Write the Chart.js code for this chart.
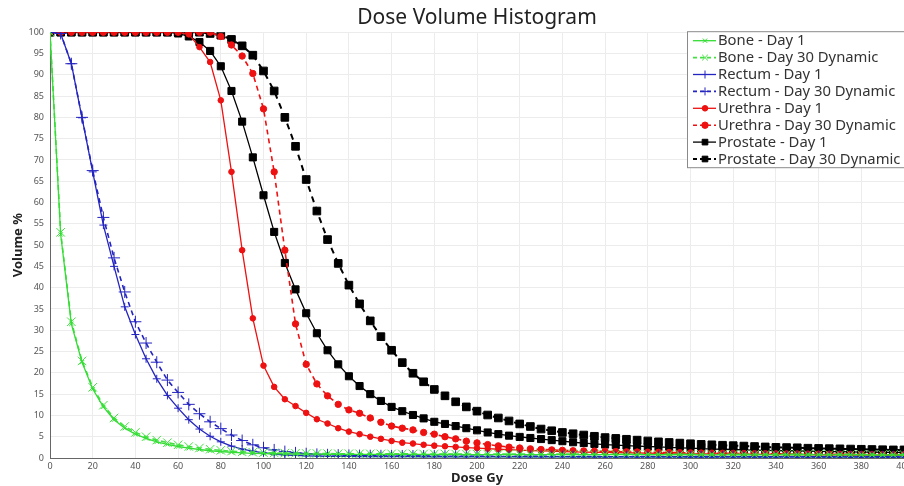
<!DOCTYPE html>
<html>
<head>
<meta charset="utf-8">
<script src="https://cdn.jsdelivr.net/npm/chart.js@4.4.1/dist/chart.umd.min.js"></script>
<style>
  html, body { margin: 0; padding: 0; background: #fff; }
  #wrap { width: 904px; height: 486px; }
</style>
</head>
<body>
<div id="wrap"><canvas id="dvh" width="904" height="486"></canvas></div>
<script>
// dose grid (Gy), one value every 5 Gy
const dose = [
  0, 5, 10, 15, 20, 25, 30, 35, 40, 45,
  50, 55, 60, 65, 70, 75, 80, 85, 90, 95,
  100, 105, 110, 115, 120, 125, 130, 135, 140, 145,
  150, 155, 160, 165, 170, 175, 180, 185, 190, 195,
  200, 205, 210, 215, 220, 225, 230, 235, 240, 245,
  250, 255, 260, 265, 270, 275, 280, 285, 290, 295,
  300, 305, 310, 315, 320, 325, 330, 335, 340, 345,
  350, 355, 360, 365, 370, 375, 380, 385, 390, 395,
  400
];

// volume %
const boneDay1 = [
  100, 52.5, 31.5, 22.5, 16.2, 12, 9, 7, 5.6, 4.6,
  3.8, 3.2, 2.7, 2.3, 2.0, 1.7, 1.5, 1.35, 1.2, 1.1,
  1.05, 1.0, 0.95, 0.92, 0.9, 0.9, 0.88, 0.88, 0.86, 0.86,
  0.85, 0.85, 0.84, 0.84, 0.83, 0.83, 0.82, 0.82, 0.82, 0.81,
  0.81, 0.8, 0.8, 0.8, 0.8, 0.79, 0.79, 0.79, 0.79, 0.78,
  0.78, 0.78, 0.78, 0.77, 0.77, 0.77, 0.77, 0.76, 0.76, 0.76,
  0.76, 0.75, 0.75, 0.75, 0.75, 0.74, 0.74, 0.74, 0.74, 0.73,
  0.73, 0.73, 0.73, 0.72, 0.72, 0.72, 0.72, 0.71, 0.71, 0.71,
  0.7
];
const boneDay30 = [
  100, 53, 32, 22.8, 16.6, 12.4, 9.4, 7.4, 6.0, 5.0,
  4.2, 3.6, 3.1, 2.7, 2.35, 2.05, 1.8, 1.6, 1.45, 1.35,
  1.25, 1.2, 1.15, 1.1, 1.07, 1.05, 1.03, 1.01, 1.0, 0.99,
  0.98, 0.97, 0.97, 0.96, 0.96, 0.95, 0.95, 0.94, 0.94, 0.93,
  0.93, 0.93, 0.92, 0.92, 0.92, 0.91, 0.91, 0.91, 0.9, 0.9,
  0.9, 0.9, 0.89, 0.89, 0.89, 0.89, 0.88, 0.88, 0.88, 0.88,
  0.87, 0.87, 0.87, 0.87, 0.86, 0.86, 0.86, 0.86, 0.85, 0.85,
  0.85, 0.85, 0.84, 0.84, 0.84, 0.84, 0.83, 0.83, 0.83, 0.83,
  0.82
];
const rectumDay1 = [
  100, 99.7, 92.6, 79.9, 67.2, 54.7, 45, 35.5, 29, 23.3,
  18.6, 14.7, 11.7, 9.0, 6.8, 5.1, 3.8, 2.8, 2.1, 1.6,
  1.2, 0.9, 0.7, 0.6, 0.5, 0.45, 0.4, 0.38, 0.36, 0.34,
  0.33, 0.32, 0.31, 0.3, 0.3, 0.29, 0.29, 0.28, 0.28, 0.27,
  0.27, 0.27, 0.26, 0.26, 0.26, 0.25, 0.25, 0.25, 0.25, 0.24,
  0.24, 0.24, 0.24, 0.23, 0.23, 0.23, 0.23, 0.22, 0.22, 0.22,
  0.22, 0.22, 0.21, 0.21, 0.21, 0.21, 0.21, 0.2, 0.2, 0.2,
  0.2, 0.2, 0.2, 0.19, 0.19, 0.19, 0.19, 0.19, 0.18, 0.18,
  0.18
];
const rectumDay30 = [
  100, 99.7, 92.6, 80, 67.5, 56.5, 47, 39, 32, 27,
  22.5, 18.3, 15.4, 12.6, 10.4, 8.5, 6.9, 5.4, 4.1, 3.1,
  2.4, 1.9, 1.5, 1.2, 1.0, 0.85, 0.75, 0.67, 0.61, 0.57,
  0.54, 0.52, 0.5, 0.48, 0.47, 0.46, 0.45, 0.44, 0.43, 0.42,
  0.41, 0.4, 0.4, 0.39, 0.39, 0.38, 0.38, 0.37, 0.37, 0.36,
  0.36, 0.36, 0.35, 0.35, 0.35, 0.34, 0.34, 0.34, 0.33, 0.33,
  0.33, 0.33, 0.32, 0.32, 0.32, 0.32, 0.31, 0.31, 0.31, 0.31,
  0.3, 0.3, 0.3, 0.3, 0.3, 0.29, 0.29, 0.29, 0.29, 0.29,
  0.28
];
const urethraDay1 = [
  100, 100, 100, 100, 100, 100, 100, 100, 100, 100,
  100, 100, 100, 99.5, 96.5, 93, 84, 67.2, 48.8, 32.8,
  21.7, 16.7, 13.8, 12.2, 10.6, 9.1, 8.1, 7.0, 6.2, 5.6,
  5.0, 4.5, 4.0, 3.6, 3.4, 3.1, 2.9, 2.75, 2.6, 2.45,
  2.3, 2.2, 2.05, 1.95, 1.85, 1.75, 1.65, 1.6, 1.5, 1.45,
  1.4, 1.35, 1.3, 1.26, 1.22, 1.18, 1.14, 1.1, 1.07, 1.04,
  1.0, 0.98, 0.96, 0.94, 0.92, 0.9, 0.88, 0.86, 0.84, 0.82,
  0.8, 0.78, 0.76, 0.74, 0.72, 0.7, 0.68, 0.66, 0.64, 0.62,
  0.6
];
const urethraDay30 = [
  100, 100, 100, 100, 100, 100, 100, 100, 100, 100,
  100, 100, 100, 100, 100, 100, 99, 97, 94.4, 90.3,
  82, 67.2, 48.8, 31.5, 22, 17.4, 14.6, 12.6, 11.3, 10.5,
  9.4, 8.4, 7.5, 7.0, 6.6, 6.0, 5.6, 5.0, 4.5, 3.95,
  3.55, 3.15, 2.85, 2.55, 2.35, 2.15, 2.0, 1.9, 1.8, 1.7,
  1.65, 1.6, 1.55, 1.5, 1.45, 1.4, 1.36, 1.32, 1.28, 1.24,
  1.2, 1.17, 1.14, 1.11, 1.08, 1.05, 1.02, 1.0, 0.98, 0.96,
  0.94, 0.92, 0.9, 0.88, 0.86, 0.84, 0.82, 0.8, 0.78, 0.76,
  0.75
];
const prostateDay1 = [
  100, 100, 100, 100, 100, 100, 100, 100, 100, 100,
  100, 100, 99.7, 99, 97.7, 95.6, 92, 86.2, 79, 70.6,
  61.7, 53.1, 45.8, 39.6, 34, 29.3, 25.3, 22, 19.2, 16.9,
  15.0, 13.4, 12.0, 11.0, 10.1, 9.3, 8.5, 8.0, 7.5, 7.0,
  6.5, 6.0, 5.6, 5.25, 4.95, 4.7, 4.45, 4.2, 3.95, 3.7,
  3.5, 3.3, 3.15, 3.0, 2.9, 2.8, 2.7, 2.6, 2.5, 2.4,
  2.3, 2.2, 2.1, 2.05, 2.0, 1.9, 1.85, 1.8, 1.75, 1.7,
  1.65, 1.6, 1.55, 1.5, 1.5, 1.45, 1.4, 1.4, 1.35, 1.3,
  1.3
];
const prostateDay30 = [
  100, 100, 100, 100, 100, 100, 100, 100, 100, 100,
  100, 100, 100, 100, 100, 99.7, 99.3, 98.3, 96.8, 94.6,
  90.9, 86.2, 80, 73.2, 65.4, 58, 51.3, 45.7, 40.6, 36.2,
  32.2, 28.5, 25.3, 22.4, 19.9, 17.9, 16.1, 14.6, 13.2, 12.0,
  11.0, 10.1, 9.4, 8.7, 8.0, 7.4, 6.8, 6.4, 6.0, 5.7,
  5.4, 5.1, 4.8, 4.6, 4.4, 4.2, 4.0, 3.8, 3.65, 3.5,
  3.35, 3.2, 3.1, 3.0, 2.9, 2.8, 2.7, 2.6, 2.5, 2.45,
  2.4, 2.3, 2.25, 2.2, 2.15, 2.1, 2.05, 2.0, 1.95, 1.9,
  1.9
];

const xTicks = [0, 400, 20];   // min, max, step
const yTicks = [0, 100, 5];

const FONT = "'Noto Sans', 'DejaVu Sans', sans-serif";

function pts(vals) {
    return vals.map((v, i) => ({ x: dose[i], y: v }));
}

function series(label, vals, color, dashed, style, radius) {
    return {
        label: label,
        data: pts(vals),
        borderColor: color,
        backgroundColor: color,
        pointBackgroundColor: color,
        pointBorderColor: color,
        borderWidth: dashed ? 1.6 : 1.3,
        borderDash: dashed ? [5, 4] : [],
        pointStyle: style,
        pointRadius: radius,
        pointBorderWidth: 1,
        pointHoverRadius: radius,
        tension: 0,
        fill: false
    };
}

let datasets = [
    series('Bone - Day 1', boneDay1, '#33dd33', false, 'crossRot', 3),
    series('Bone - Day 30 Dynamic', boneDay30, '#44e044', true, 'crossRot', 6),
    series('Rectum - Day 1', rectumDay1, '#2424c0', false, 'cross', 4),
    series('Rectum - Day 30 Dynamic', rectumDay30, '#2424c0', true, 'cross', 6),
    series('Urethra - Day 1', urethraDay1, '#ee1111', false, 'circle', 2.8),
    series('Urethra - Day 30 Dynamic', urethraDay30, '#ee1111', true, 'circle', 3.2),
    series('Prostate - Day 1', prostateDay1, '#000000', false, 'rect', 5),
    series('Prostate - Day 30 Dynamic', prostateDay30, '#000000', true, 'rect', 5.4)
];
datasets[7].borderWidth = 2;
datasets[7].borderDash = [6, 5];

// legend box drawn inside the plot, top right
const boxLegend = {
    id: 'boxLegend',
    afterDraw(chart) {
        const ctx = chart.ctx;
        const area = chart.chartArea;
        const w = 218, h = 137;
        const x0 = area.right + 1 - w, y0 = area.top - 1;
        ctx.save();
        ctx.fillStyle = '#ffffff';
        ctx.fillRect(x0, y0, w, h);
        ctx.strokeStyle = '#8a8a8a';
        ctx.lineWidth = 1;
        ctx.strokeRect(x0 + 0.5, y0 + 0.5, w - 1, h - 1);
        ctx.font = '14.8px ' + FONT;
        ctx.textBaseline = 'middle';
        chart.data.datasets.forEach((ds, i) => {
            const y = y0 + 9.5 + i * 16.9;
            ctx.strokeStyle = ds.borderColor;
            ctx.fillStyle = ds.borderColor;
            ctx.lineWidth = ds.borderWidth;
            ctx.setLineDash(ds.borderDash.length ? [4, 3] : []);
            ctx.beginPath();
            ctx.moveTo(x0 + 6, y);
            ctx.lineTo(x0 + 29, y);
            ctx.stroke();
            ctx.setLineDash([]);
            ctx.lineWidth = 1;
            const r = Math.min(ds.pointRadius, 4);
            if (Chart.helpers && Chart.helpers.drawPoint) {
                Chart.helpers.drawPoint(ctx, { pointStyle: ds.pointStyle, radius: r, rotation: 0, borderWidth: 1 }, x0 + 18, y);
            }
            ctx.fillStyle = '#333';
            ctx.fillText(ds.label, x0 + 31, y + 0.5);
        });
        ctx.restore();
    }
};

const chart = new Chart(document.getElementById('dvh'), {
    type: 'line',
    data: { datasets: datasets },
    options: {
        responsive: false,
        animation: false,
        events: [],
        layout: { padding: 0, autoPadding: false },
        scales: {
            x: {
                type: 'linear',
                min: xTicks[0],
                max: xTicks[1],
                ticks: { stepSize: xTicks[2], color: '#555', font: { size: 9, family: FONT }, padding: 3, maxRotation: 0 },
                grid: { color: '#ececec', drawTicks: false },
                border: { color: '#666', width: 1 },
                title: { display: true, text: 'Dose Gy', color: '#222', font: { size: 13, weight: 'bold', family: FONT }, padding: { top: 0, bottom: 0 } },
                afterFit(scale) { scale.paddingLeft = 0; scale.paddingRight = 0; scale.height = 28; }
            },
            y: {
                min: yTicks[0],
                max: yTicks[1],
                ticks: { stepSize: yTicks[2], color: '#555', font: { size: 9, family: FONT }, padding: 6 },
                grid: { color: '#ececec', drawTicks: false },
                border: { color: '#666', width: 1 },
                title: { display: true, text: 'Volume %', color: '#222', font: { size: 13, weight: 'bold', family: FONT }, padding: { top: 10, bottom: 0 } },
                afterFit(scale) { scale.width = 50; }
            }
        },
        plugins: {
            legend: { display: false },
            tooltip: { enabled: false },
            title: {
                display: true,
                text: 'Dose Volume Histogram',
                color: '#222',
                fullSize: false,
                font: { size: 21, weight: 'normal', family: FONT },
                padding: { top: 5, bottom: 2 }
            }
        }
    },
    plugins: [boxLegend]
});
</script>
</body>
</html>
